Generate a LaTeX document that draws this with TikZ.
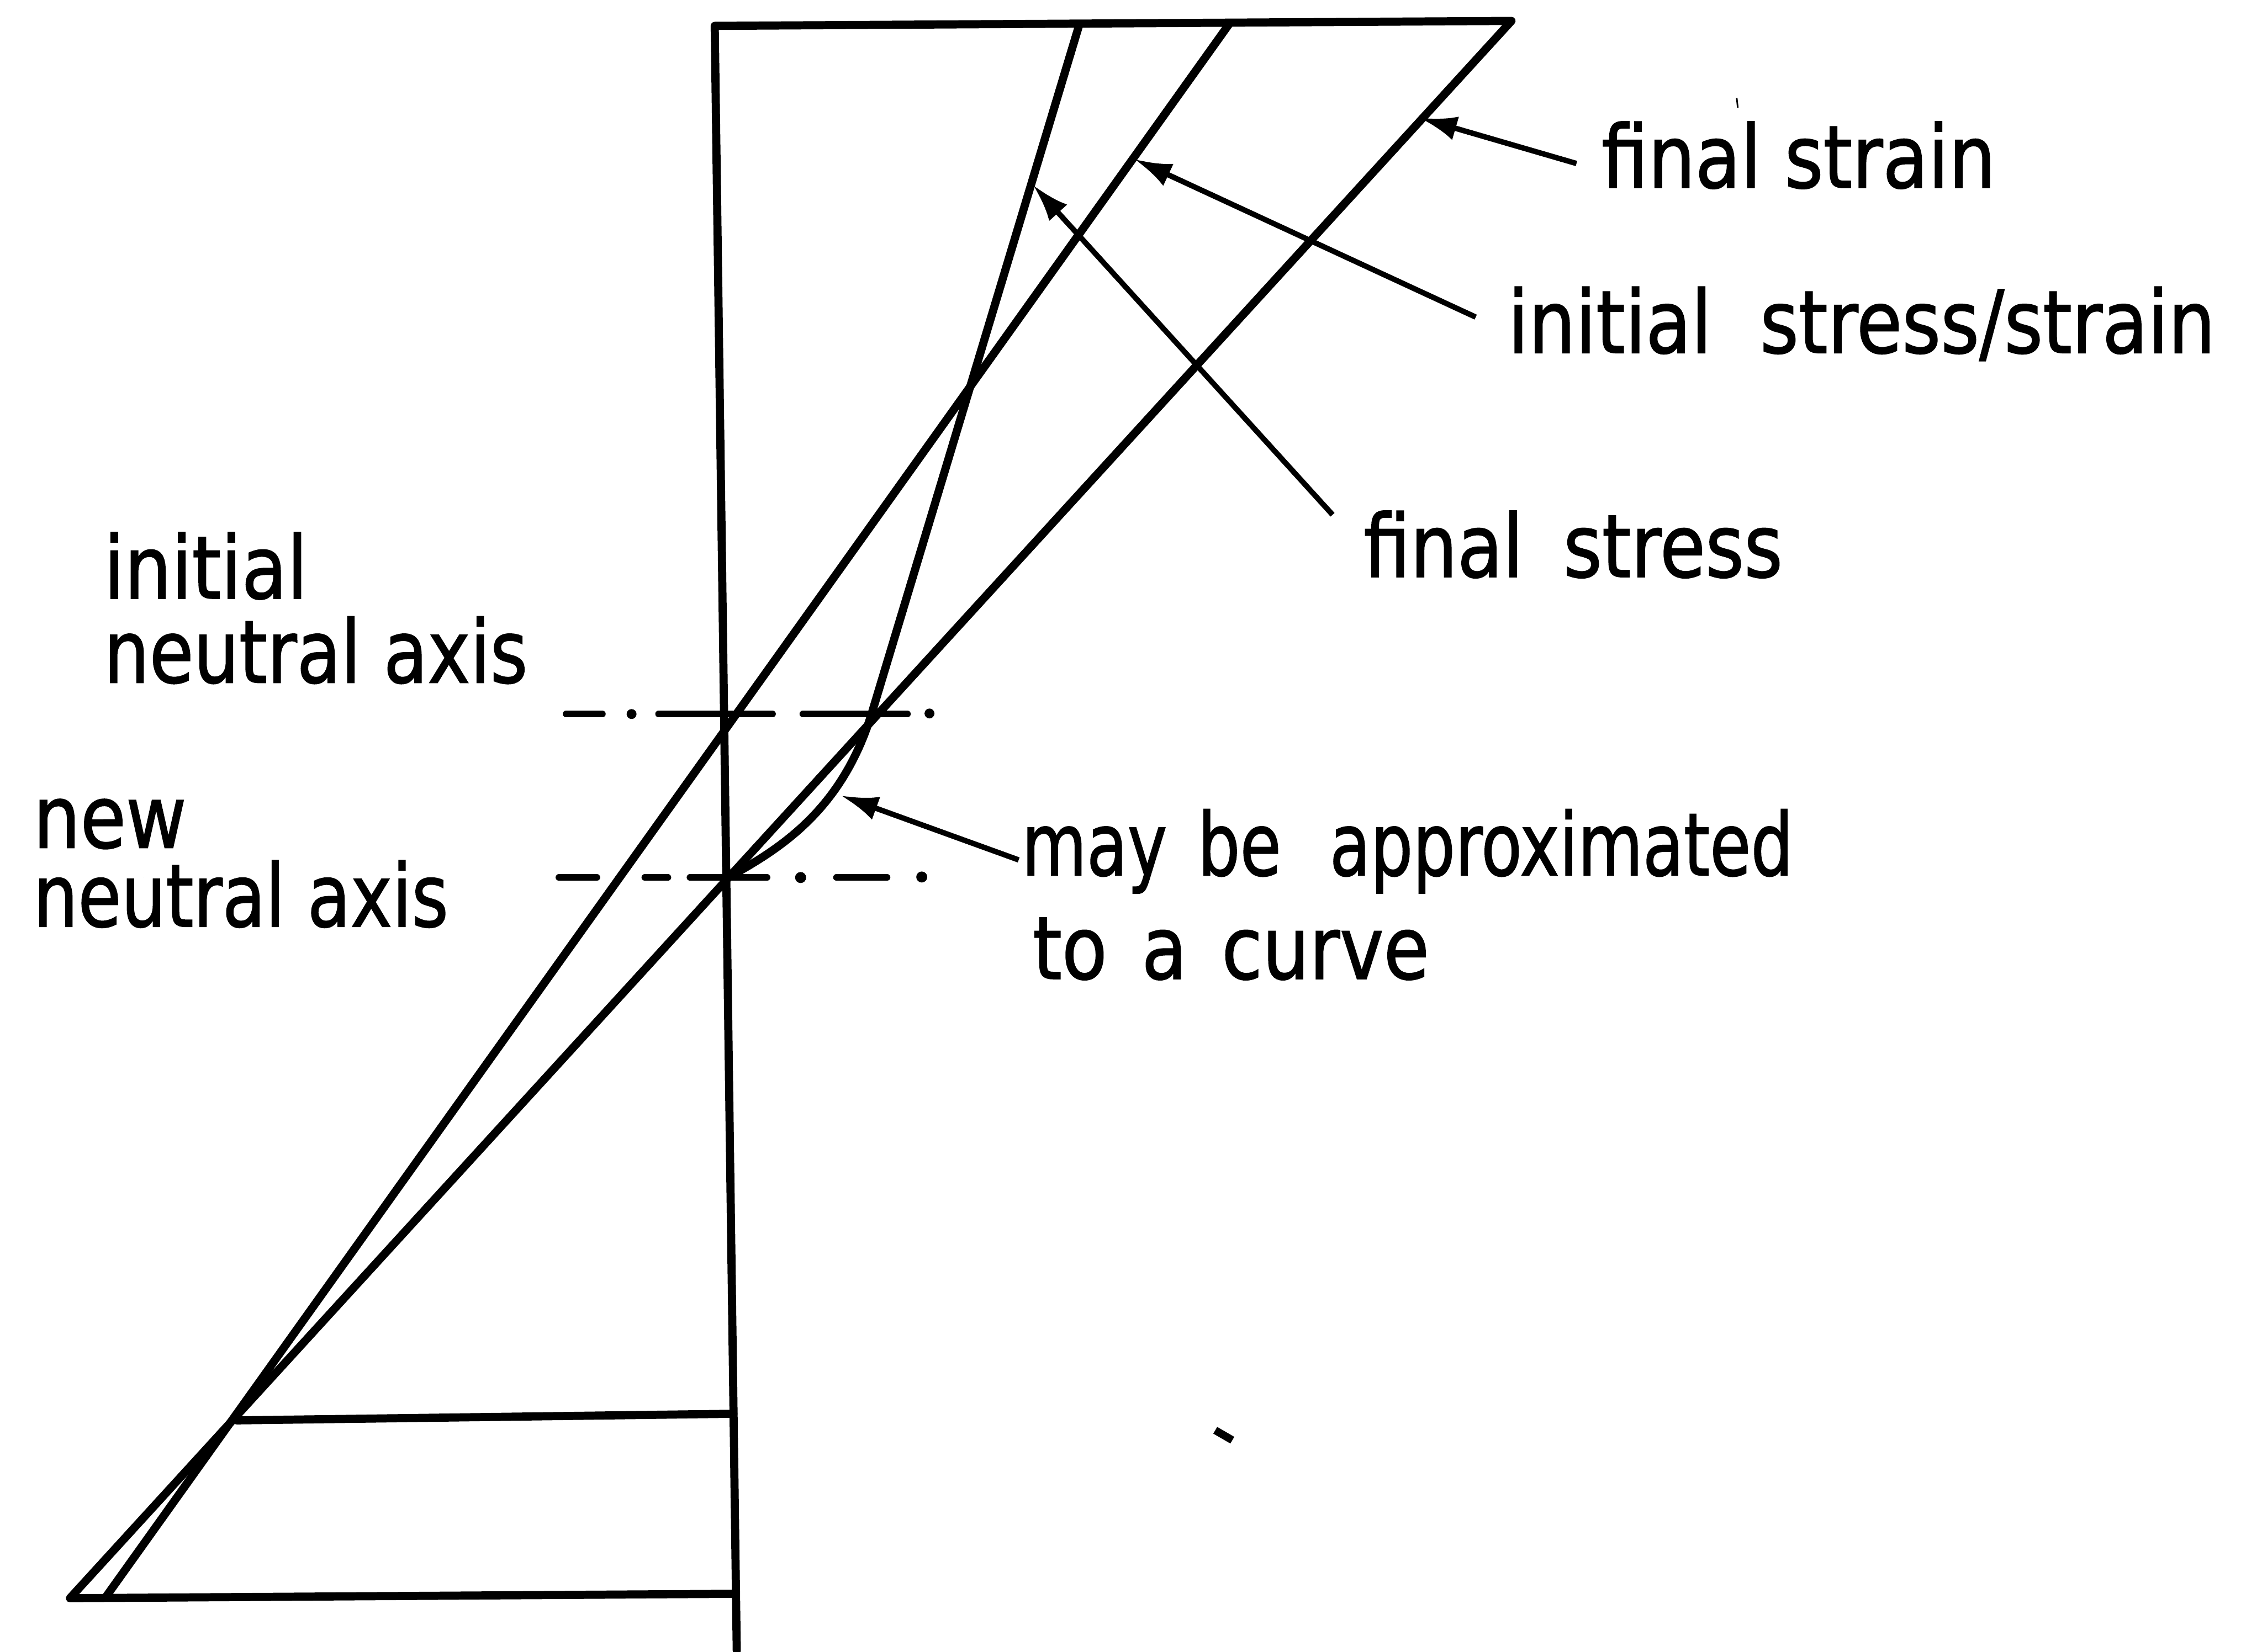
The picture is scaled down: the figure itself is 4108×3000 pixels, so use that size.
\documentclass[tikz,border=0pt]{standalone}
\usepackage{fontspec}
\newfontfamily\lblfont{DejaVu Sans}[FakeStretch=0.85,FakeBold=1.2]
\usetikzlibrary{arrows.meta}
\begin{document}
\begin{tikzpicture}[x=0.01cm,y=-0.01cm,
  heavy/.style={line width=4.2pt, line join=round, line cap=round},
  leader/.style={line width=2.8pt, -{Latex[length=0.68cm,width=0.44cm]}},
  axisline/.style={line width=3.4pt, line cap=round},
  lbl/.style={font=\lblfont\fontsize{45pt}{54pt}\selectfont, inner sep=0pt, anchor=base west}]
\useasboundingbox (0,0) rectangle (4108,3000);
% section outline, top line and final strain line
\draw[heavy] (1338,2998) -- (1298,47) -- (2745,38) -- (127,2903) -- (1335,2895);
% initial stress/strain
\draw[heavy] (2232,44) -- (192,2901);
% final stress
\draw[heavy] (1960,45) -- (1584,1293) .. controls (1530,1470) and (1420,1540) .. (1322,1594);
% upper horizontal at bottom
\draw[heavy] (430,2580) -- (1332,2568);
% initial neutral axis (dash-dot)
\draw[axisline] (1028,1297) -- (1094,1297);
\fill (1147,1297) circle (9);
\draw[axisline] (1196,1297) -- (1403,1297);
\draw[axisline] (1458,1297) -- (1648,1297);
\fill (1688,1296) circle (9);
% new neutral axis
\draw[axisline] (1015,1594) -- (1084,1594);
\draw[axisline] (1171,1594) -- (1213,1594);
\draw[axisline] (1253,1594) -- (1393,1594);
\fill (1454,1594) circle (10);
\draw[axisline] (1519,1594) -- (1611,1594);
\fill (1674,1593) circle (10);
% labels
\node[lbl] (tFstrain) at (2908,341) {final strain};
\node[lbl] (tInit) at (2738,641) {initial\hspace{0.45cm} stress/strain};
\node[lbl] (tFstress) at (2476,1048) {final\hspace{0.3cm} stress};
\node[lbl] (tMay) at (1855,1590) {\scalebox{0.9}[1]{may\hspace{0.62cm}be\hspace{0.98cm}approximated}};
\node[lbl] (tCurve) at (1875,1778) {to\hspace{0.2cm} a\hspace{0.2cm} curve};
\node[lbl] (tIni) at (188,1087) {initial};
\node[lbl] (tINA) at (188,1240) {\scalebox{0.97}[1]{neutral axis}};
\node[lbl] (tNew) at (60,1540) {new};
\node[lbl] (tNNA) at (60,1683) {\scalebox{0.95}[1]{neutral axis}};
% leader coordinates
\coordinate (fsL) at (2863,297);
\coordinate (fsT) at (2578,214);
\coordinate (isL) at (2680,576);
\coordinate (isT) at (2060,289);
\coordinate (fstL) at (2420,935);
\coordinate (fstT) at (1876,336);
\coordinate (cvL) at (1850,1562);
\coordinate (cvT) at (1527,1445);
\draw[leader] (fsL) -- (fsT);
\draw[leader] (isL) -- (isT);
\draw[leader] (fstL) -- (fstT);
\draw[leader] (cvL) -- (cvT);
% stray marks
\draw[line width=4pt] (2207,2598) -- (2238,2616);
\draw[line width=0.8pt] (3154,178) -- (3156,196);
\end{tikzpicture}
\end{document}
